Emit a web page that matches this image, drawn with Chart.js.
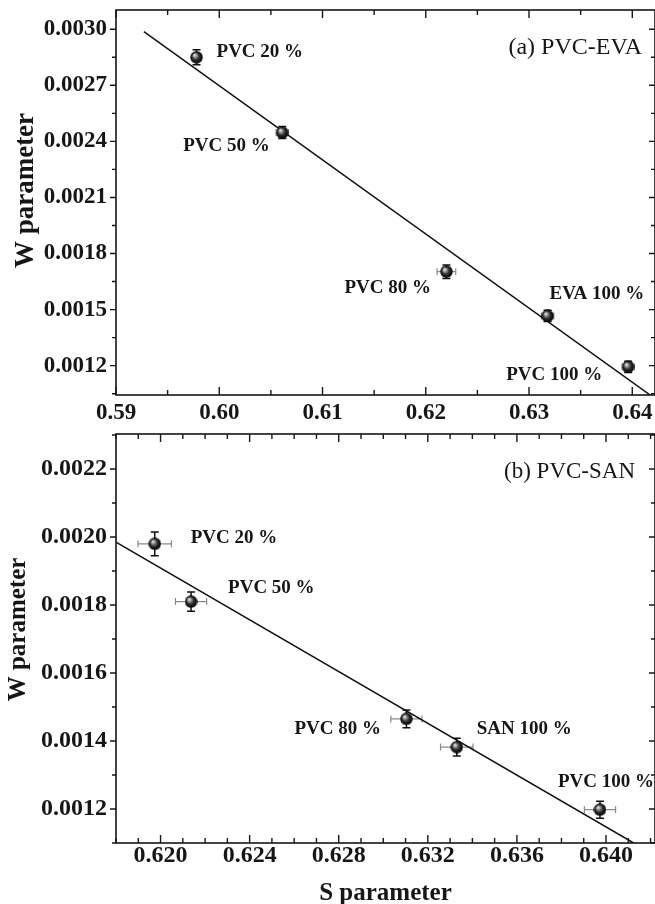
<!DOCTYPE html>
<html>
<head>
<meta charset="utf-8">
<script src="https://cdn.jsdelivr.net/npm/chart.js@4/dist/chart.umd.min.js"></script>
<style>
  body { margin: 0; background: #fff; }
  #wrap { position: relative; width: 655px; height: 904px; overflow: hidden; }
  canvas { position: absolute; left: 0; }
</style>
</head>
<body>
<div id="wrap">
  <canvas id="evaChart" width="655" height="430" style="top:0"></canvas>
  <canvas id="sanChart" width="655" height="474" style="top:430px"></canvas>
</div>
<script>
// (a) PVC-EVA
const evaNames = ['PVC 20 %', 'PVC 50 %', 'PVC 80 %', 'EVA 100 %', 'PVC 100 %'];
const evaS = [0.5978, 0.6061, 0.6220, 0.6318, 0.6396];
const evaW = [0.00285, 0.002447, 0.001703, 0.001466, 0.001194];
const evaSErr = [0.0004, 0.0006, 0.0009, 0.0006, 0.0006];
const evaWErr = [0.00004, 0.000032, 0.000036, 0.00003, 0.00003];
const evaFitS = [0.5927, 0.6418];
const evaFitW = [0.002987, 0.00104];
const evaSTicks = [0.59, 0.60, 0.61, 0.62, 0.63, 0.64];
const evaWTicks = [0.0012, 0.0015, 0.0018, 0.0021, 0.0024, 0.0027, 0.0030];

// (b) PVC-SAN
const sanNames = ['PVC 20 %', 'PVC 50 %', 'PVC 80 %', 'SAN 100 %', 'PVC 100 %'];
const sanS = [0.61974, 0.62137, 0.63104, 0.6333, 0.63973];
const sanW = [0.00198, 0.00181, 0.001465, 0.001382, 0.001198];
const sanSErr = [0.00075, 0.0007, 0.0007, 0.00073, 0.0007];
const sanWErr = [0.000035, 0.000028, 0.000026, 0.000026, 0.000025];
const sanFitS = [0.618, 0.64124];
const sanFitW = [0.001985, 0.0011];
const sanSTicks = [0.620, 0.624, 0.628, 0.632, 0.636, 0.640];
const sanWTicks = [0.0012, 0.0014, 0.0016, 0.0018, 0.0020, 0.0022];

// where the point labels sit, in pixels from their point (left edge, middle)
const evaLabelPos = [[20, -5], [-99, 13], [-102, 16], [2, -22], [-122, 8]];
const sanLabelPos = [[36, -6], [37, -14], [-112, 10], [20, -18], [-42, -28]];

const FONT = "'Liberation Serif', 'Times New Roman', serif";
const INK = '#161616';

// shaded black ball used as the marker
function makeBall(d) {
  const c = document.createElement('canvas');
  c.width = d; c.height = d;
  const g = c.getContext('2d');
  const r = d / 2;
  const grad = g.createRadialGradient(r * 0.7, r * 0.65, 0.5, r, r, r);
  grad.addColorStop(0, '#e8e8e8');
  grad.addColorStop(0.25, '#8a8a8a');
  grad.addColorStop(0.55, '#2a2a2a');
  grad.addColorStop(1, '#000');
  g.fillStyle = grad;
  g.beginPath();
  g.arc(r, r, r - 0.3, 0, Math.PI * 2);
  g.fill();
  return c;
}
const ball = makeBall(13);

function pairs(xs, ys) {
  return xs.map((x, i) => ({ x: x, y: ys[i] }));
}

// frame, inward/outward ticks, error bars, point labels, titles
const decor = {
  id: 'decor',
  beforeDatasetsDraw(chart, args, o) {
    const ctx = chart.ctx;
    const xs = chart.scales.x, ys = chart.scales.y;
    const ds = chart.data.datasets[0];
    ctx.save();
    ds.data.forEach((p, i) => {
      const px = xs.getPixelForValue(p.x), py = ys.getPixelForValue(p.y);
      const xa = xs.getPixelForValue(p.x - ds.sErr[i]), xb = xs.getPixelForValue(p.x + ds.sErr[i]);
      const ya = ys.getPixelForValue(p.y - ds.wErr[i]), yb = ys.getPixelForValue(p.y + ds.wErr[i]);
      ctx.strokeStyle = '#8a8a8a';
      ctx.lineWidth = 1.2;
      ctx.beginPath();
      ctx.moveTo(xa, py); ctx.lineTo(xb, py);
      ctx.moveTo(xa, py - 3.5); ctx.lineTo(xa, py + 3.5);
      ctx.moveTo(xb, py - 3.5); ctx.lineTo(xb, py + 3.5);
      ctx.stroke();
      ctx.strokeStyle = '#111';
      ctx.lineWidth = 1.5;
      ctx.beginPath();
      ctx.moveTo(px, ya); ctx.lineTo(px, yb);
      ctx.moveTo(px - 4, ya); ctx.lineTo(px + 4, ya);
      ctx.moveTo(px - 4, yb); ctx.lineTo(px + 4, yb);
      ctx.stroke();
    });
    ctx.restore();
  },
  afterDraw(chart, args, o) {
    const ctx = chart.ctx;
    const a = chart.chartArea;
    const xs = chart.scales.x, ys = chart.scales.y;
    ctx.save();
    ctx.strokeStyle = INK;
    ctx.lineWidth = 1.6;
    ctx.strokeRect(a.left, a.top, a.right - a.left, a.bottom - a.top);

    ctx.lineWidth = 1.4;
    ctx.beginPath();
    const xMaj = xs.ticks.map(t => t.value);
    const yMaj = ys.ticks.map(t => t.value);
    const minors = (maj, div, lo, hi) => {
      const step = (maj[1] - maj[0]) / div;
      const out = [];
      for (let v = maj[0] - step; v >= lo - 1e-12; v -= step) out.push(v);
      for (let v = maj[0] + step; v <= hi + 1e-12; v += step) {
        if (!maj.some(m => Math.abs(m - v) < step / 10)) out.push(v);
      }
      return out;
    };
    const xTick = (v, len) => {
      const px = xs.getPixelForValue(v);
      ctx.moveTo(px, a.bottom); ctx.lineTo(px, a.bottom - len);
      ctx.moveTo(px, a.top); ctx.lineTo(px, a.top + len);
    };
    const yTick = (v, len) => {
      const py = ys.getPixelForValue(v);
      ctx.moveTo(a.left, py); ctx.lineTo(a.left - len, py);
      ctx.moveTo(a.right, py); ctx.lineTo(a.right - len, py);
    };
    xMaj.forEach(v => xTick(v, 8));
    minors(xMaj, o.xDiv, xs.min, xs.max).forEach(v => xTick(v, 5));
    yMaj.forEach(v => yTick(v, 6));
    minors(yMaj, o.yDiv, ys.min, ys.max).forEach(v => yTick(v, 4));
    ctx.stroke();

    // point labels
    ctx.fillStyle = INK;
    ctx.textBaseline = 'middle';
    ctx.textAlign = 'left';
    ctx.font = 'bold ' + o.labelSize + 'px ' + FONT;
    const ds = chart.data.datasets[0];
    ds.data.forEach((p, i) => {
      const px = xs.getPixelForValue(p.x), py = ys.getPixelForValue(p.y);
      ctx.fillText(o.names[i], px + o.labelPos[i][0], py + o.labelPos[i][1]);
    });

    // panel caption
    ctx.textAlign = 'right';
    ctx.font = o.captionSize + 'px ' + FONT;
    ctx.fillText(o.caption, a.right - o.captionDx, a.top + o.captionDy);

    // y axis title
    ctx.font = 'bold ' + o.yTitleSize + 'px ' + FONT;
    ctx.textAlign = 'center';
    ctx.translate(o.yTitleX, (a.top + a.bottom) / 2 + o.yTitleDy);
    ctx.rotate(-Math.PI / 2);
    ctx.fillText('W parameter', 0, 0);
    ctx.restore();
  }
};

function noOverflow(s) {
  s.paddingLeft = 0; s.paddingRight = 0;
  s.paddingTop = 0; s.paddingBottom = 0;
}

function buildChart(id, cfg) {
  return new Chart(document.getElementById(id), {
    type: 'scatter',
    data: {
      datasets: [
        {
          data: pairs(cfg.s, cfg.w),
          sErr: cfg.sErr,
          wErr: cfg.wErr,
          pointStyle: ball,
          pointRadius: 6.5,
          order: 0
        },
        {
          data: pairs(cfg.fitS, cfg.fitW),
          showLine: true,
          borderColor: '#111',
          borderWidth: 1.5,
          pointRadius: 0,
          order: 1
        }
      ]
    },
    options: {
      responsive: false,
      animation: false,
      devicePixelRatio: 1,
      layout: { autoPadding: false, padding: { top: cfg.padTop, right: 0, left: 0, bottom: 0 } },
      plugins: {
        legend: { display: false },
        tooltip: { enabled: false },
        decor: cfg.decor
      },
      scales: {
        x: {
          type: 'linear',
          min: cfg.xMin,
          max: cfg.xMax,
          grid: { display: false, drawTicks: false },
          border: { display: false },
          afterBuildTicks: s => { s.ticks = cfg.sTicks.map(v => ({ value: v })); },
          afterFit: s => { s.height = cfg.xHeight; noOverflow(s); },
          ticks: {
            padding: cfg.xPad,
            maxRotation: 0,
            autoSkip: false,
            color: INK,
            font: { family: FONT, size: cfg.tickSize, weight: 'bold', lineHeight: 1.1 },
            callback: v => v.toFixed(cfg.sDigits)
          },
          title: cfg.xTitle
        },
        y: {
          type: 'linear',
          min: cfg.yMin,
          max: cfg.yMax,
          grid: { display: false, drawTicks: false },
          border: { display: false },
          afterBuildTicks: s => { s.ticks = cfg.wTicks.map(v => ({ value: v })); },
          afterFit: s => { s.width = 116; noOverflow(s); },
          ticks: {
            padding: 9,
            autoSkip: false,
            color: INK,
            font: { family: FONT, size: cfg.tickSize, weight: 'bold' },
            callback: v => v.toFixed(4)
          }
        }
      }
    },
    plugins: [decor]
  });
}

buildChart('evaChart', {
  s: evaS, w: evaW, sErr: evaSErr, wErr: evaWErr, fitS: evaFitS, fitW: evaFitW,
  sTicks: evaSTicks, wTicks: evaWTicks, sDigits: 2,
  xMin: 0.59, xMax: 0.6422, yMin: 0.001043, yMax: 0.003103,
  padTop: 10, xHeight: 35, xPad: 5, tickSize: 23,
  xTitle: { display: false },
  decor: {
    names: evaNames, labelPos: evaLabelPos, labelSize: 19,
    caption: '(a) PVC-EVA', captionSize: 24, captionDx: 13, captionDy: 38,
    yTitleSize: 27, yTitleX: 26, yTitleDy: -12, xDiv: 2, yDiv: 2
  }
});

buildChart('sanChart', {
  s: sanS, w: sanW, sErr: sanSErr, wErr: sanWErr, fitS: sanFitS, fitW: sanFitW,
  sTicks: sanSTicks, wTicks: sanWTicks, sDigits: 3,
  xMin: 0.618, xMax: 0.6422, yMin: 0.0011, yMax: 0.002303,
  padTop: 4, xHeight: 61, xPad: 0, tickSize: 24,
  xTitle: {
    display: true,
    text: 'S parameter',
    color: INK,
    padding: 0,
    font: { family: FONT, size: 25, weight: 'bold', lineHeight: 0.86 }
  },
  decor: {
    names: sanNames, labelPos: sanLabelPos, labelSize: 19,
    caption: '(b) PVC-SAN', captionSize: 23, captionDx: 20, captionDy: 38,
    yTitleSize: 25, yTitleX: 18.5, yTitleDy: -9, xDiv: 4, yDiv: 2
  }
});
</script>
</body>
</html>
